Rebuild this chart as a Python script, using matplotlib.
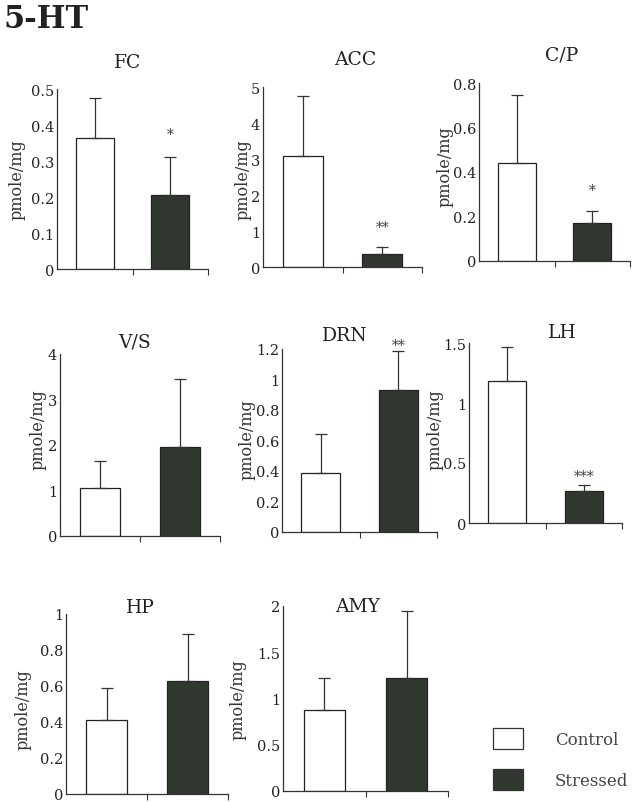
import matplotlib
matplotlib.use("Agg")
import matplotlib.pyplot as plt
from matplotlib.patches import Patch

plt.rcParams['font.family'] = ['DejaVu Serif']

# ---- data ----
regions = ["FC", "ACC", "C/P", "V/S", "DRN", "LH", "HP", "AMY"]
groups = ["Control", "Stressed"]
control = [0.365, 3.08, 0.44, 1.05, 0.385, 1.18, 0.41, 0.88]
control_err = [0.11, 1.67, 0.305, 0.60, 0.255, 0.29, 0.18, 0.34]
stressed = [0.205, 0.36, 0.17, 1.95, 0.93, 0.27, 0.63, 1.22]
stressed_err = [0.105, 0.19, 0.055, 1.50, 0.26, 0.05, 0.26, 0.73]
significance = ["*", "**", "*", "", "**", "***", "", ""]
y_max = [0.5, 5, 0.8, 4, 1.2, 1.5, 1, 2]
y_ticks = [
    [0, 0.1, 0.2, 0.3, 0.4, 0.5],
    [0, 1, 2, 3, 4, 5],
    [0, 0.2, 0.4, 0.6, 0.8],
    [0, 1, 2, 3, 4],
    [0, 0.2, 0.4, 0.6, 0.8, 1, 1.2],
    [0, 0.5, 1, 1.5],
    [0, 0.2, 0.4, 0.6, 0.8, 1],
    [0, 0.5, 1, 1.5, 2],
]
y_ticklabels = [
    ["0", "0.1", "0.2", "0.3", "0.4", "0.5"],
    ["0", "1", "2", "3", "4", "5"],
    ["0", "0.2", "0.4", "0.6", "0.8"],
    ["0", "1", "2", "3", "4"],
    ["0", "0.2", "0.4", "0.6", "0.8", "1", "1.2"],
    ["0", "0.5", "1", "1.5"],
    ["0", "0.2", "0.4", "0.6", "0.8", "1"],
    ["0", "0.5", "1", "1.5", "2"],
]
y_label = "pmole/mg"
main_title = "5-HT"

# ---- layout (pixels) ----
W, H = 636, 803
# left, right, bottom(y of 0), top(y of max)
boxes = [
    (57, 208, 270, 90),
    (263, 422, 268, 88),
    (479, 630, 262, 84),
    (60, 220, 537, 355),
    (282, 437, 533, 350),
    (469, 622, 524, 344),
    (66, 228, 795, 615),
    (283, 448, 792, 607),
]
title_pos = [(128, 63), (355, 60), (562, 55), (135, 343), (345, 336), (562, 333), (140, 608), (358, 607)]
ylabel_pos = [(17, 180), (243, 180), (445, 167), (38, 430), (247, 440), (435, 430), (23, 710), (238, 700)]
star_off = [0.13, 0.11, 0.12, 0, 0.03, 0.05, 0, 0]

dark = "#30372f"
spine_c = "#333333"

fig = plt.figure(figsize=(W / 100, H / 100), dpi=100)
fig.text(4 / W, 1 - 20 / H, main_title, fontsize=22, fontweight="bold", va="center", ha="left", color="#222222")

for i, name in enumerate(regions):
    l, r, b, t = boxes[i]
    ax = fig.add_axes([l / W, 1 - b / H, (r - l) / W, (b - t) / H])
    ax.bar([0.5], [control[i]], width=0.5, color="white", edgecolor="#222222", linewidth=0.9,
           yerr=[[0], [control_err[i]]], error_kw=dict(ecolor="#333333", elinewidth=0.9, capsize=4, capthick=0.9))
    ax.bar([1.5], [stressed[i]], width=0.5, color=dark, edgecolor="#222222", linewidth=0.9,
           yerr=[[0], [stressed_err[i]]], error_kw=dict(ecolor="#333333", elinewidth=0.9, capsize=4, capthick=0.9))
    if significance[i]:
        ax.text(1.5, stressed[i] + stressed_err[i] + star_off[i] * y_max[i], significance[i],
                ha="center", va="center", fontsize=10, color="#444444", clip_on=False)
    ax.set_xlim(0, 2)
    ax.set_ylim(0, y_max[i])
    ax.set_yticks(y_ticks[i])
    ax.set_yticklabels(y_ticklabels[i], fontsize=10.5, color="#222222")
    ax.set_xticks([1, 2])
    ax.set_xticklabels([])
    ax.tick_params(axis="x", direction="out", length=4, width=0.8, color=spine_c)
    ax.tick_params(axis="y", direction="in", length=0, pad=2)
    for s in ["top", "right"]:
        ax.spines[s].set_visible(False)
    for s in ["left", "bottom"]:
        ax.spines[s].set_color(spine_c)
        ax.spines[s].set_linewidth(0.9)
    ax.patch.set_alpha(0)
    tx, ty = title_pos[i]
    fig.text(tx / W, 1 - ty / H, name, ha="center", va="center", fontsize=13.5, color="#222222")
    lx, ly = ylabel_pos[i]
    fig.text(lx / W, 1 - ly / H, y_label, ha="center", va="center", rotation=90, fontsize=11.5, color="#333333")

handles = [Patch(facecolor="white", edgecolor="#333333", linewidth=0.9),
           Patch(facecolor=dark, edgecolor="#333333", linewidth=0.9)]
fig.legend(handles, groups, loc="center left", bbox_to_anchor=(478 / W, 1 - 760 / H),
           frameon=False, fontsize=12, handlelength=1.8, handleheight=1.5,
           handletextpad=1.9, labelspacing=1.25, labelcolor="#444444")

fig.savefig("out.png", dpi=100)
